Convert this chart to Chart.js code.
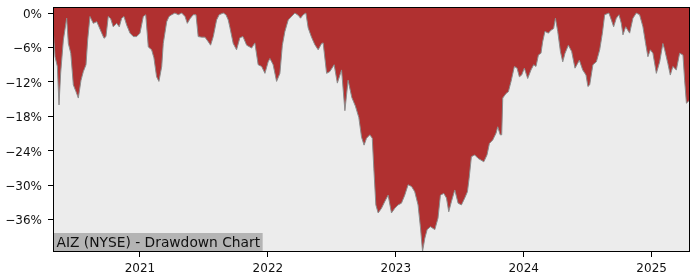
<!DOCTYPE html>
<html>
<head>
<meta charset="utf-8">
<script src="https://cdn.jsdelivr.net/npm/chart.js@4.4.1/dist/chart.umd.min.js"></script>
<style>
  html, body { margin: 0; padding: 0; background: #fff; }
  #chart { display: block; }
</style>
</head>
<body>
<canvas id="chart" width="700" height="280"></canvas>
<script>
// Sample dates as decimal years
const years = [
  2020.322, 2020.336, 2020.354, 2020.367, 2020.380, 2020.401, 2020.427, 2020.440, 2020.459, 2020.479,
  2020.500, 2020.518, 2020.539, 2020.557, 2020.578, 2020.591, 2020.609, 2020.635, 2020.662, 2020.674,
  2020.701, 2020.719, 2020.734, 2020.752, 2020.771, 2020.791, 2020.818, 2020.838, 2020.857, 2020.875,
  2020.896, 2020.922, 2020.948, 2020.974, 2021.000, 2021.026, 2021.045, 2021.065, 2021.091, 2021.109,
  2021.130, 2021.148, 2021.170, 2021.182, 2021.209, 2021.227, 2021.248, 2021.273, 2021.299, 2021.326,
  2021.352, 2021.370, 2021.391, 2021.416, 2021.438, 2021.455, 2021.482, 2021.508, 2021.534, 2021.552,
  2021.573, 2021.599, 2021.619, 2021.651, 2021.672, 2021.690, 2021.703, 2021.729, 2021.755, 2021.781,
  2021.805, 2021.834, 2021.873, 2021.898, 2021.924, 2021.951, 2021.977, 2022.002, 2022.016, 2022.041,
  2022.068, 2022.094, 2022.113, 2022.133, 2022.159, 2022.185, 2022.211, 2022.237, 2022.255, 2022.276,
  2022.297, 2022.315, 2022.341, 2022.367, 2022.393, 2022.420, 2022.432, 2022.459, 2022.484, 2022.518,
  2022.543, 2022.576, 2022.602, 2022.627, 2022.656, 2022.684, 2022.711, 2022.732, 2022.752, 2022.771,
  2022.797, 2022.816, 2022.828, 2022.844, 2022.862, 2022.888, 2022.914, 2022.940, 2022.966, 2022.992,
  2023.018, 2023.044, 2023.070, 2023.096, 2023.123, 2023.148, 2023.174, 2023.193, 2023.209, 2023.227,
  2023.245, 2023.271, 2023.305, 2023.330, 2023.349, 2023.375, 2023.396, 2023.414, 2023.435, 2023.461,
  2023.487, 2023.513, 2023.539, 2023.560, 2023.573, 2023.591, 2023.617, 2023.643, 2023.666, 2023.688,
  2023.713, 2023.732, 2023.758, 2023.784, 2023.797, 2023.816, 2023.828, 2023.836, 2023.862, 2023.880,
  2023.901, 2023.927, 2023.948, 2023.966, 2023.984, 2024.005, 2024.031, 2024.057, 2024.078, 2024.096,
  2024.115, 2024.135, 2024.148, 2024.166, 2024.193, 2024.213, 2024.234, 2024.248, 2024.266, 2024.287,
  2024.305, 2024.323, 2024.349, 2024.375, 2024.401, 2024.416, 2024.435, 2024.461, 2024.487, 2024.502,
  2024.516, 2024.541, 2024.568, 2024.594, 2024.615, 2024.633, 2024.666, 2024.685, 2024.703, 2024.724,
  2024.745, 2024.763, 2024.776, 2024.797, 2024.828, 2024.854, 2024.880, 2024.906, 2024.932, 2024.953,
  2024.971, 2024.990, 2025.010, 2025.037, 2025.063, 2025.088, 2025.102, 2025.127, 2025.146, 2025.166,
  2025.193, 2025.219, 2025.245, 2025.258, 2025.272, 2025.300
];

// Drawdown from running peak, in percent
const drawdown = [
  -3.2, -7.6, -9.3, -16.0, -10.4, -4.7, -0.9, -5.3, -7.0, -12.5,
  -13.7, -14.8, -11.7, -10.2, -9.0, -4.7, -0.6, -1.8, -1.5, -2.1,
  -3.5, -4.4, -4.1, -0.6, -1.0, -2.4, -1.8, -2.4, -0.9, -0.6,
  -2.1, -3.5, -4.1, -4.1, -3.5, -0.6, -0.3, -5.9, -6.4, -7.8,
  -11.1, -11.9, -9.3, -5.3, -1.5, -0.6, -0.3, 0, -0.3, 0,
  -0.6, -1.8, -1.0, -0.3, -0.3, -4.1, -4.2, -4.2, -5.0, -5.6,
  -4.1, -1.2, -0.3, 0, -0.3, -1.2, -2.5, -5.3, -6.4, -4.3,
  -4.1, -5.6, -6.1, -5.2, -9.0, -9.3, -10.5, -8.5, -7.9, -9.0,
  -11.9, -10.5, -5.6, -3.2, -1.2, -0.6, 0, -0.4, -0.9, -0.3,
  0, -2.6, -4.2, -5.5, -6.4, -5.3, -5.2, -10.5, -10.2, -9.0,
  -12.2, -9.9, -17.0, -11.7, -14.7, -16.2, -18.2, -21.6, -23.0, -21.8,
  -21.2, -21.8, -27.0, -33.4, -34.8, -34.0, -32.8, -31.7, -34.8, -34.0,
  -33.4, -33.1, -31.7, -29.9, -30.2, -31.1, -33.4, -37.4, -41.5, -39.2,
  -37.7, -37.2, -37.7, -35.7, -31.7, -31.4, -32.2, -34.6, -32.8, -30.8,
  -33.1, -33.4, -32.2, -31.1, -28.8, -25.0, -24.7, -25.3, -25.6, -25.9,
  -24.7, -22.7, -22.1, -20.9, -19.8, -21.2, -21.2, -14.8, -14.0, -13.7,
  -11.9, -9.3, -9.6, -11.1, -10.8, -9.6, -11.4, -9.9, -9.0, -9.3,
  -7.3, -7.0, -5.0, -3.2, -3.5, -3.0, -2.7, -0.9, -3.2, -6.7,
  -8.5, -7.0, -5.6, -6.7, -9.6, -9.0, -8.2, -9.9, -10.8, -12.8,
  -12.5, -9.0, -8.5, -6.4, -3.5, -0.3, 0, -1.2, -2.4, -0.9,
  -0.3, -1.8, -3.8, -2.4, -3.5, -0.9, 0, -0.3, -2.4, -5.3,
  -7.6, -6.4, -7.0, -10.5, -8.5, -5.3, -6.4, -8.8, -10.8, -9.3,
  -9.9, -7.0, -7.3, -11.7, -15.7, -15.1
];

const yearTicks = [2021, 2022, 2023, 2024, 2025];
const pctTicks = [0, -6, -12, -18, -24, -30, -36];
const title = 'AIZ (NYSE) - Drawdown Chart';

// grey plot background, label box and frame
const plotDecor = {
  id: 'plotDecor',
  beforeDraw(chart) {
    const {ctx, chartArea: a} = chart;
    ctx.save();
    ctx.fillStyle = '#ececec';
    ctx.fillRect(a.left, a.top, a.right - a.left, a.bottom - a.top);
    ctx.restore();
  },
  afterDraw(chart) {
    const {ctx, chartArea: a} = chart;
    ctx.save();
    ctx.font = '13.8px "DejaVu Sans"';
    const w = ctx.measureText(title).width;
    ctx.fillStyle = '#b4b4b4';
    ctx.fillRect(a.left, a.bottom - 19, w + 6, 19);
    ctx.fillStyle = '#111';
    ctx.textBaseline = 'alphabetic';
    ctx.fillText(title, a.left + 3.5, a.bottom - 4.7);
    ctx.strokeStyle = '#000';
    ctx.lineWidth = 1;
    ctx.strokeRect(a.left + 0.5, a.top + 0.5, a.right - a.left - 1, a.bottom - a.top - 1);
    ctx.restore();
  }
};

const tickFont = {family: 'DejaVu Sans', size: 12};

new Chart(document.getElementById('chart'), {
  type: 'line',
  data: {
    datasets: [{
      data: years.map((x, i) => ({x, y: drawdown[i]})),
      borderColor: '#8c8c8c',
      borderWidth: 1,
      backgroundColor: '#b03030',
      fill: 'end',
      pointRadius: 0,
      tension: 0
    }]
  },
  options: {
    responsive: false,
    animation: false,
    events: [],
    layout: {padding: {top: 7, right: 10, left: 0, bottom: 0}},
    plugins: {legend: {display: false}, tooltip: {enabled: false}},
    scales: {
      x: {
        type: 'linear',
        min: 2020.32,
        max: 2025.30,
        afterBuildTicks: s => { s.ticks = yearTicks.map(v => ({value: v})); },
        afterFit: s => { s.height = 28; s.paddingLeft = 0; s.paddingRight = 0; },
        grid: {drawOnChartArea: false, tickLength: 5, tickColor: '#000'},
        border: {display: false},
        ticks: {color: '#111', font: tickFont, padding: 5, maxRotation: 0, autoSkip: false, callback: v => String(v)}
      },
      y: {
        min: -41.6,
        max: 1.05,
        afterBuildTicks: s => { s.ticks = pctTicks.map(v => ({value: v})); },
        afterFit: s => { s.width = 53; s.paddingTop = 0; s.paddingBottom = 0; },
        grid: {drawOnChartArea: false, tickLength: 5, tickColor: '#000'},
        border: {display: false},
        ticks: {color: '#111', font: tickFont, padding: 6, labelOffset: 1.5, callback: v => (v < 0 ? '\u2212' + Math.abs(v) : v) + '%'}
      }
    }
  },
  plugins: [plotDecor]
});
</script>
</body>
</html>
